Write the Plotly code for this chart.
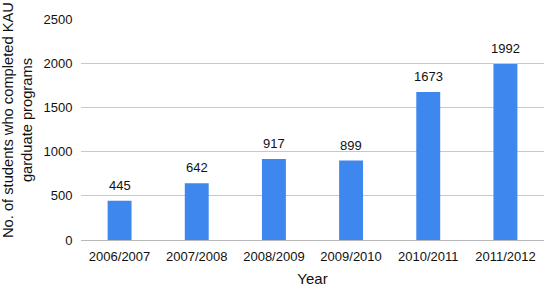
import plotly.graph_objects as go

years = ["2006/2007", "2007/2008", "2008/2009", "2009/2010", "2010/2011", "2011/2012"]
graduates = [445, 642, 917, 899, 1673, 1992]
y_ticks = [0, 500, 1000, 1500, 2000, 2500]

fig = go.Figure(go.Bar(
    x=years, y=graduates,
    marker=dict(color="#3d87ef", line=dict(width=0)),
    cliponaxis=False,
))

value_labels = [dict(
    x=yr, y=v, xref="x", yref="y", text=str(v), showarrow=False,
    xanchor="center", yanchor="bottom", yshift=6,
    font=dict(size=13, color="#111111"),
) for yr, v in zip(years, graduates)]

fig.update_layout(
    width=544, height=287,
    margin=dict(l=81, r=0, t=19, b=47, autoexpand=False),
    paper_bgcolor="white", plot_bgcolor="white",
    font=dict(family="Liberation Sans, Arial, sans-serif", size=13, color="#111111"),
    bargap=0.69,
    showlegend=False,
    xaxis=dict(
        title=dict(text="Year", font=dict(size=15), standoff=11),
        automargin=False,
        showgrid=False, showline=False, zeroline=False,
        ticks="outside", ticklen=4, tickcolor="rgba(0,0,0,0)",
        tickfont=dict(size=13),
    ),
    yaxis=dict(
        automargin=False,
        range=[0, 2500], tickvals=y_ticks,
        showgrid=True, gridcolor="#c8c8c8", gridwidth=1,
        zeroline=True, zerolinecolor="#b8b8b8", zerolinewidth=1,
        showline=False,
        ticks="outside", ticklen=5, tickcolor="rgba(0,0,0,0)",
        tickfont=dict(size=13),
    ),
    annotations=value_labels + [dict(
        text="No. of students who completed KAU<br>garduate programs",
        textangle=-90, xref="paper", yref="paper",
        x=-0.136, y=0.543, xanchor="center", yanchor="middle",
        showarrow=False, font=dict(size=14.7, color="#111111"),
    )],
)

fig.write_html("out.html", config={"displayModeBar": False},
               post_script="document.body.style.margin='0';")
